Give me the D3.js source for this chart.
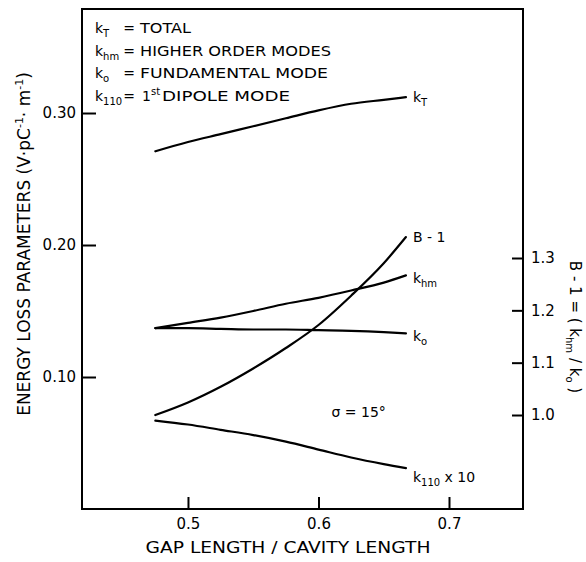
<!DOCTYPE html>
<html>
<head>
<meta charset="utf-8">
<script src="https://cdn.jsdelivr.net/npm/d3@7"></script>
<style>
  body { margin: 0; background: #fff; }
  svg { font-family: "DejaVu Sans", sans-serif; }
</style>
</head>
<body>
<div id="chart"></div>
<script>
// gap length / cavity length sample points
const gapRatio = [0.475, 0.5, 0.525, 0.55, 0.575, 0.6, 0.625, 0.65, 0.667];

// energy loss parameters (V/pC/m)
const kTotal   = [0.271, 0.278, 0.284, 0.290, 0.296, 0.302, 0.307, 0.310, 0.312];
const kHigher  = [0.137, 0.141, 0.145, 0.150, 0.1555, 0.160, 0.1655, 0.1715, 0.177];
const kFund    = [0.137, 0.137, 0.1365, 0.136, 0.136, 0.1355, 0.135, 0.134, 0.133];
const kDipole10 = [0.067, 0.064, 0.060, 0.056, 0.051, 0.045, 0.039, 0.034, 0.031];
// B - 1 = khm / ko (right axis)
const bRatio   = [1.0, 1.024, 1.054, 1.089, 1.128, 1.172, 1.228, 1.29, 1.34];

const xTicks = [0.5, 0.6, 0.7];
const leftTicks = [0.1, 0.2, 0.3];
const rightTicks = [1.0, 1.1, 1.2, 1.3];

const legendSubs = ['T', 'hm', 'o', '110'];
const legendText = ['TOTAL', 'HIGHER ORDER MODES', 'FUNDAMENTAL  MODE', 'DIPOLE MODE'];

const width = 586;
const height = 562;
const margin = { top: 9, right: 63, bottom: 53, left: 82 };

const svg = d3.select('#chart')
  .append('svg')
  .attr('width', width)
  .attr('height', height);

const x = d3.scaleLinear()
  .domain([0.4188, 0.7567])
  .range([margin.left, width - margin.right]);

const yL = d3.scaleLinear()
  .domain([0, 0.3788])
  .range([height - margin.bottom, margin.top]);

const yR = d3.scaleLinear()
  .domain([0.8204, 1.7758])
  .range([height - margin.bottom, margin.top]);

// frame
svg.append('rect')
  .attr('x', margin.left)
  .attr('y', margin.top)
  .attr('width', width - margin.left - margin.right)
  .attr('height', height - margin.top - margin.bottom)
  .attr('fill', 'none')
  .attr('stroke', '#000')
  .attr('stroke-width', 2);

function styleAxis(g) {
  g.select('.domain').remove();
  g.selectAll('line').attr('stroke', '#000').attr('stroke-width', 2);
  g.selectAll('text').attr('font-size', 15).attr('fill', '#000');
}

svg.append('g')
  .attr('transform', `translate(0,${height - margin.bottom})`)
  .call(d3.axisBottom(x).tickValues(xTicks).tickFormat(d3.format('.1f')).tickSize(-12).tickPadding(9))
  .call(styleAxis)
  .attr('font-family', null);

svg.append('g')
  .attr('transform', `translate(${margin.left},0)`)
  .call(d3.axisLeft(yL).tickValues(leftTicks).tickFormat(d3.format('.2f')).tickSize(-14).tickPadding(6))
  .call(styleAxis)
  .attr('font-family', null);

svg.append('g')
  .attr('transform', `translate(${width - margin.right},0)`)
  .call(d3.axisRight(yR).tickValues(rightTicks).tickFormat(d3.format('.1f')).tickSize(-11).tickPadding(8))
  .call(styleAxis)
  .attr('font-family', null);

// curves
const lineL = d3.line()
  .x((d, i) => x(gapRatio[i]))
  .y(d => yL(d))
  .curve(d3.curveMonotoneX);

const lineR = d3.line()
  .x((d, i) => x(gapRatio[i]))
  .y(d => yR(d))
  .curve(d3.curveMonotoneX);

const curves = svg.append('g')
  .attr('fill', 'none')
  .attr('stroke', '#000')
  .attr('stroke-width', 2.2)
  .attr('stroke-linecap', 'round');

[kTotal, kHigher, kFund, kDipole10].forEach(s => {
  curves.append('path').attr('d', lineL(s));
});
curves.append('path').attr('d', lineR(bRatio));

// curve labels
const last = gapRatio.length - 1;
const xEnd = x(gapRatio[last]) + 7;

function kText(sel, sub) {
  sel.append('tspan').text('k');
  sel.append('tspan').attr('font-size', 10).attr('dy', 4).text(sub);
}

const labels = svg.append('g').attr('font-size', 14).attr('fill', '#000');

labels.append('text')
  .attr('x', xEnd).attr('y', yL(kTotal[last]) + 5)
  .call(kText, 'T');

labels.append('text')
  .attr('x', xEnd).attr('y', yL(kHigher[last]) + 8)
  .call(kText, 'hm');

labels.append('text')
  .attr('x', xEnd).attr('y', yL(kFund[last]) + 8)
  .call(kText, 'o');

labels.append('text')
  .attr('x', xEnd).attr('y', yL(kDipole10[last]) + 14)
  .call(t => {
    kText(t, '110');
    t.append('tspan').attr('dy', -4).text(' x 10');
  });

labels.append('text')
  .attr('x', xEnd).attr('y', yR(bRatio[last]) + 5)
  .text('B - 1');

labels.append('text')
  .attr('x', x(0.61)).attr('y', yL(0.07))
  .text('\u03C3 = 15\u00B0');

// legend
const legend = svg.append('g').attr('font-size', 14).attr('fill', '#000');
legendSubs.forEach((sub, i) => {
  const yy = 33 + i * 22.5;
  const t = legend.append('text').attr('x', 95).attr('y', yy);
  kText(t, sub);
  legend.append('text').attr('x', 129).attr('y', yy).attr('text-anchor', 'middle').text('=');
  if (i === 3) {
    const t2 = legend.append('text').attr('x', 142).attr('y', yy);
    t2.append('tspan').text('1');
    t2.append('tspan').attr('font-size', 10).attr('dy', -6).text('st');
    legend.append('text').attr('x', 162).attr('y', yy)
      .attr('textLength', 128).attr('lengthAdjust', 'spacingAndGlyphs')
      .text(legendText[i]);
  } else {
    const widths = [51, 191, 188];
    legend.append('text').attr('x', 140).attr('y', yy)
      .attr('textLength', widths[i]).attr('lengthAdjust', 'spacingAndGlyphs')
      .text(legendText[i]);
  }
});

// axis titles
svg.append('text')
  .attr('x', 288).attr('y', 553)
  .attr('text-anchor', 'middle')
  .attr('font-size', 15)
  .attr('textLength', 285).attr('lengthAdjust', 'spacingAndGlyphs')
  .text('GAP LENGTH / CAVITY LENGTH');

const leftTitle = svg.append('text')
  .attr('transform', 'translate(30,244) rotate(-90)')
  .attr('text-anchor', 'middle')
  .attr('font-size', 17);
leftTitle.append('tspan').text('ENERGY LOSS PARAMETERS (V\u00B7pC');
leftTitle.append('tspan').attr('font-size', 11).attr('dy', -7).text('-1');
leftTitle.append('tspan').attr('dy', 7).text('\u00B7 m');
leftTitle.append('tspan').attr('font-size', 11).attr('dy', -7).text('-1');
leftTitle.append('tspan').attr('dy', 7).text(')');

const rightTitle = svg.append('text')
  .attr('transform', 'translate(570,327) rotate(90)')
  .attr('text-anchor', 'middle')
  .attr('font-size', 15);
rightTitle.append('tspan').text('B - 1 = ( k');
rightTitle.append('tspan').attr('font-size', 10).attr('dy', 4).text('hm');
rightTitle.append('tspan').attr('dy', -4).text(' / k');
rightTitle.append('tspan').attr('font-size', 10).attr('dy', 4).text('o');
rightTitle.append('tspan').attr('dy', -4).text(' )');
</script>
</body>
</html>
